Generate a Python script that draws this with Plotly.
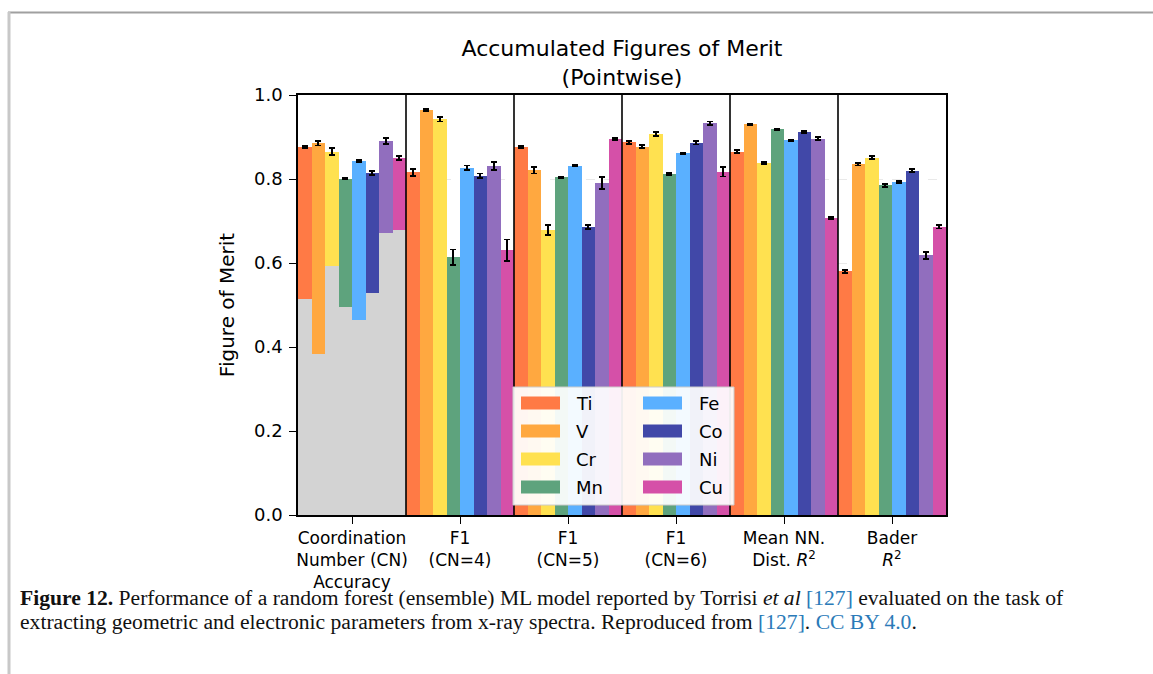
import plotly.graph_objects as go

# Task groups along the x axis
groups = [
    "Coordination<br>Number (CN)<br>Accuracy",
    "F1<br>(CN=4)",
    "F1<br>(CN=5)",
    "F1<br>(CN=6)",
    "Mean NN.<br>Dist. <i>R</i><sup>2</sup>",
    "Bader<br><i>R</i><sup>2</sup>",
]

elements = ["Ti", "V", "Cr", "Mn", "Fe", "Co", "Ni", "Cu"]
colors = ["#FF7A45", "#FFA840", "#FFE150", "#5EA37D", "#5AB0FF", "#4148A8", "#916EBE", "#D550A8"]

# Figure of merit per element, one value per group
ti = [0.876, 0.816, 0.876, 0.887, 0.865, 0.580]
v  = [0.885, 0.964, 0.821, 0.877, 0.930, 0.835]
cr = [0.865, 0.942, 0.679, 0.907, 0.838, 0.851]
mn = [0.801, 0.614, 0.804, 0.812, 0.918, 0.785]
fe = [0.843, 0.827, 0.832, 0.861, 0.892, 0.793]
co = [0.814, 0.808, 0.686, 0.886, 0.912, 0.820]
ni = [0.890, 0.831, 0.790, 0.933, 0.896, 0.618]
cu = [0.850, 0.630, 0.895, 0.817, 0.707, 0.686]

# Error bar half-widths
ti_err = [0.003, 0.008, 0.002, 0.004, 0.004, 0.004]
v_err  = [0.005, 0.003, 0.008, 0.004, 0.002, 0.003]
cr_err = [0.008, 0.005, 0.012, 0.005, 0.003, 0.004]
mn_err = [0.002, 0.018, 0.002, 0.003, 0.002, 0.004]
fe_err = [0.002, 0.005, 0.002, 0.002, 0.002, 0.003]
co_err = [0.005, 0.005, 0.005, 0.004, 0.002, 0.003]
ni_err = [0.007, 0.010, 0.014, 0.004, 0.004, 0.009]
cu_err = [0.004, 0.026, 0.003, 0.011, 0.003, 0.004]

# Baseline CN accuracy (shown in grey under the first group)
baseline_cn = [0.515, 0.383, 0.592, 0.496, 0.464, 0.528, 0.671, 0.678]

values = [ti, v, cr, mn, fe, co, ni, cu]
errors = [ti_err, v_err, cr_err, mn_err, fe_err, co_err, ni_err, cu_err]

# Pixel geometry of the plotting area
W, H = 1153, 674
PX0, PX1, PY0, PY1 = 298, 946, 95, 515


def px(x):
    return (x - PX0) / (PX1 - PX0)


def py(y):
    return (PY1 - y) / (PY1 - PY0)


n = len(elements)
bw = 1.0 / n
offsets = [(k - (n - 1) / 2) * bw for k in range(n)]

fig = go.Figure()
for k, (name, col) in enumerate(zip(elements, colors)):
    fig.add_trace(go.Bar(
        x=[g + offsets[k] for g in range(len(groups))],
        y=values[k],
        width=bw,
        name=name,
        marker=dict(color=col, line=dict(width=0)),
        error_y=dict(type="data", array=errors[k], color="black", thickness=1.8, width=3),
        showlegend=False,
    ))

fig.add_trace(go.Bar(
    x=[0 + offsets[k] for k in range(n)],
    y=baseline_cn,
    width=bw,
    marker=dict(color="#D3D3D3", line=dict(width=0)),
    showlegend=False,
    name="baseline",
))

shapes = []
# group separators
for i in range(len(groups) - 1):
    shapes.append(dict(type="line", xref="x", yref="paper", x0=i + 0.5, x1=i + 0.5,
                       y0=0, y1=1, line=dict(color="black", width=1.6), layer="above"))

# page frame
shapes.append(dict(type="line", xref="paper", yref="paper", x0=px(8), x1=px(W), y0=py(12.5), y1=py(12.5),
                   line=dict(color="#a0a0a0", width=2)))
shapes.append(dict(type="line", xref="paper", yref="paper", x0=px(9), x1=px(9), y0=py(12), y1=py(H),
                   line=dict(color="#c8c8c8", width=3)))

annotations = []

# legend box
lx0, ly0, lx1, ly1 = 513, 387, 734, 505
shapes.append(dict(type="rect", xref="paper", yref="paper", x0=px(lx0), x1=px(lx1), y0=py(ly1), y1=py(ly0),
                   fillcolor="rgba(255,255,255,0.93)", line=dict(color="#cccccc", width=1), layer="above"))
row_y = [403, 431, 459, 487]
col_sw = [521, 643]
col_tx = [574, 697]
for k, (name, col) in enumerate(zip(elements, colors)):
    c, r = divmod(k, 4)
    yc = row_y[r]
    shapes.append(dict(type="rect", xref="paper", yref="paper", x0=px(col_sw[c]), x1=px(col_sw[c] + 39),
                       y0=py(yc + 6.5), y1=py(yc - 6.5), fillcolor=col, line=dict(width=0), layer="above"))
    annotations.append(dict(xref="paper", yref="paper", x=px(col_tx[c]), y=py(yc), text=name,
                            showarrow=False, xanchor="left", yanchor="middle",
                            font=dict(family="DejaVu Sans", size=18, color="black")))

# caption
blue = "#2a7ab8"
cap1 = ("<b>Figure 12.</b> Performance of a random forest (ensemble) ML model reported by Torrisi "
        "<i>et al</i> <span style='color:%s'>[127]</span> evaluated on the task of" % blue)
cap2 = ("extracting geometric and electronic parameters from x-ray spectra. Reproduced from "
        "<span style='color:%s'>[127]</span>. <span style='color:%s'>CC BY 4.0</span>." % (blue, blue))
for txt, yc in [(cap1, 598), (cap2, 622)]:
    annotations.append(dict(xref="paper", yref="paper", x=px(18), y=py(yc), text=txt, showarrow=False,
                            xanchor="left", yanchor="middle",
                            font=dict(family="Liberation Serif", size=21.6, color="#111111")))

fig.update_layout(
    width=W, height=H,
    margin=dict(l=PX0, r=W - PX1, t=PY0, b=H - PY1),
    paper_bgcolor="white", plot_bgcolor="white",
    barmode="overlay", bargap=0,
    font=dict(family="DejaVu Sans", size=18, color="black"),
    title=dict(text="Accumulated Figures of Merit<br>(Pointwise)", xref="paper", x=px(622), xanchor="center",
               yref="container", y=1 - 56 / H, yanchor="middle", font=dict(size=22, family="DejaVu Sans")),
    shapes=shapes,
    annotations=annotations,
    xaxis=dict(range=[-0.5, len(groups) - 0.5], tickvals=list(range(len(groups))), ticktext=groups,
               showline=True, mirror=True, linecolor="black", linewidth=1.6,
               ticks="outside", ticklen=7, tickwidth=1.4, tickcolor="black",
               tickfont=dict(size=17),
               showgrid=False, zeroline=False, layer="above traces"),
    yaxis=dict(range=[0, 1.0], tickvals=[0, 0.2, 0.4, 0.6, 0.8, 1.0],
               ticktext=["0.0", "0.2", "0.4", "0.6", "0.8", "1.0"],
               showline=True, mirror=True, linecolor="black", linewidth=1.6,
               ticks="outside", ticklen=7, tickwidth=1.4, tickcolor="black",
               ticklabelstandoff=3, tickfont=dict(size=18),
               showgrid=True, gridcolor="rgba(215,215,215,0.55)", griddash="dash", gridwidth=1.2,
               zeroline=False, layer="above traces",
               title=dict(text="Figure of Merit", font=dict(size=20), standoff=14)),
)

fig.write_html("out.html")
